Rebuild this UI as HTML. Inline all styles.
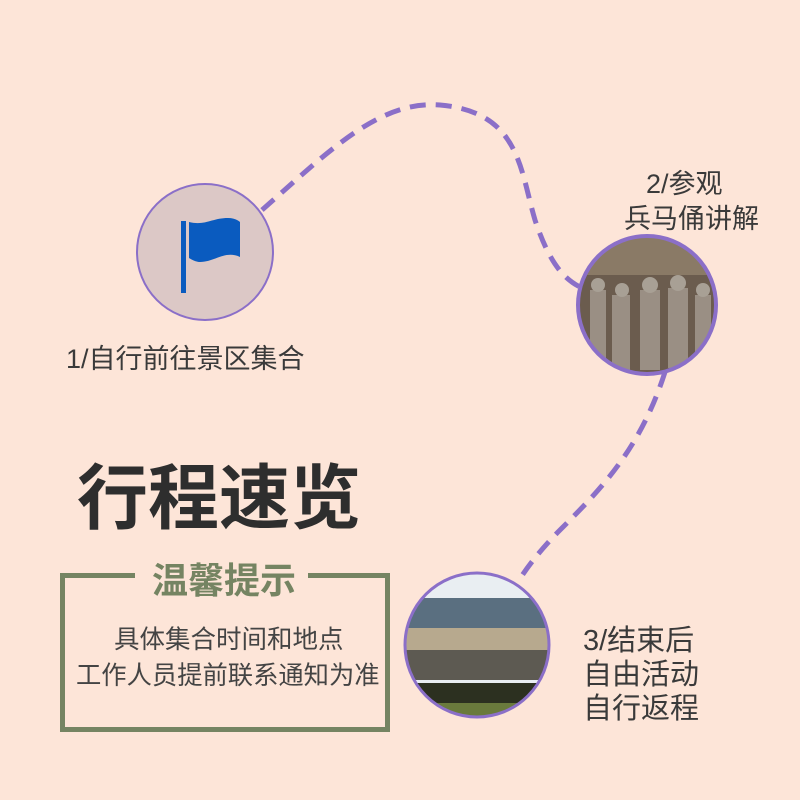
<!DOCTYPE html>
<html><head><meta charset="utf-8"><style>
body{margin:0;width:800px;height:800px;background:#fde5d8;position:relative;overflow:hidden;font-family:"Liberation Sans","Noto Sans CJK SC",sans-serif;}
.t{position:absolute;white-space:nowrap;color:#3a3a3a;}
</style></head><body>
<svg width="800" height="800" style="position:absolute;left:0;top:0">
<defs>
<clipPath id="c2"><circle cx="647" cy="305" r="69"/></clipPath>
<clipPath id="c3"><circle cx="477" cy="645" r="72"/></clipPath>
</defs>
<path d="M262,210 C330,150 380,100 440,105 C520,112 520,170 535,220 C550,265 565,280 582,288" fill="none" stroke="#8b6fc8" stroke-width="5" stroke-dasharray="16,10"/>
<path d="M665,372 C640,450 600,490 560,530 C540,550 525,570 518,582" fill="none" stroke="#8b6fc8" stroke-width="5" stroke-dasharray="16,10"/>
<circle cx="205" cy="252" r="68" fill="#dcc8c6" stroke="#8b6fc8" stroke-width="2"/>
<rect x="181" y="221" width="5" height="72" fill="#0a5bbf"/>
<path d="M189,222 C205,226 212,218 228,218 C236,218 240,222 240,222 L240,257 C225,250 215,262 200,262 C195,262 189,258 189,258 Z" fill="#0a5bbf"/>
<g clip-path="url(#c2)">
<rect x="577" y="235" width="140" height="140" fill="#6b5c4e"/>
<rect x="577" y="235" width="140" height="40" fill="#8a7a66"/>
<g fill="#9a8f84">
<rect x="590" y="290" width="16" height="70"/><rect x="612" y="295" width="18" height="75"/><rect x="640" y="290" width="20" height="80"/><rect x="668" y="288" width="20" height="80"/><rect x="695" y="295" width="16" height="70"/>
</g>
<g fill="#a8a095"><circle cx="598" cy="285" r="7"/><circle cx="622" cy="290" r="7"/><circle cx="650" cy="285" r="8"/><circle cx="678" cy="283" r="8"/><circle cx="703" cy="290" r="7"/></g>
</g>
<circle cx="647" cy="305" r="69" fill="none" stroke="#8b6fc8" stroke-width="4"/>
<g clip-path="url(#c3)">
<rect x="405" y="573" width="144" height="144" fill="#e9eef2"/>
<rect x="405" y="598" width="144" height="30" fill="#5a6f80"/>
<rect x="405" y="628" width="144" height="50" fill="#b7a98e"/>
<rect x="405" y="650" width="144" height="30" fill="#5d5a52"/>
<rect x="405" y="683" width="144" height="20" fill="#2c3020"/>
<rect x="405" y="703" width="144" height="20" fill="#6a7a3c"/>
</g>
<circle cx="477" cy="645" r="72" fill="none" stroke="#8b6fc8" stroke-width="3"/>
<path d="M135,575.5 H62.5 V729.5 H387.5 V575.5 H308" fill="none" stroke="#758462" stroke-width="5"/>
</svg>
<div class="t" style="left:66px;top:337px;font-size:27px">1/自行前往景区集合</div>
<div class="t" style="left:646px;top:162px;font-size:27px">2/参观</div>
<div class="t" style="left:624px;top:197px;font-size:27px">兵马俑讲解</div>
<div class="t" style="left:583px;top:624px;font-size:29px;line-height:34px">3/结束后<br>自由活动<br>自行返程</div>
<div class="t" style="left:77px;top:442px;font-size:71px;font-weight:bold;color:#2e2e2e">行程速览</div>
<div class="t" style="left:152px;top:552px;font-size:36px;font-weight:bold;color:#758462">温馨提示</div>
<div class="t" style="left:114px;top:619px;font-size:25.5px;color:#444">具体集合时间和地点</div>
<div class="t" style="left:76px;top:656px;font-size:25.3px;color:#444">工作人员提前联系通知为准</div>
</body></html>
